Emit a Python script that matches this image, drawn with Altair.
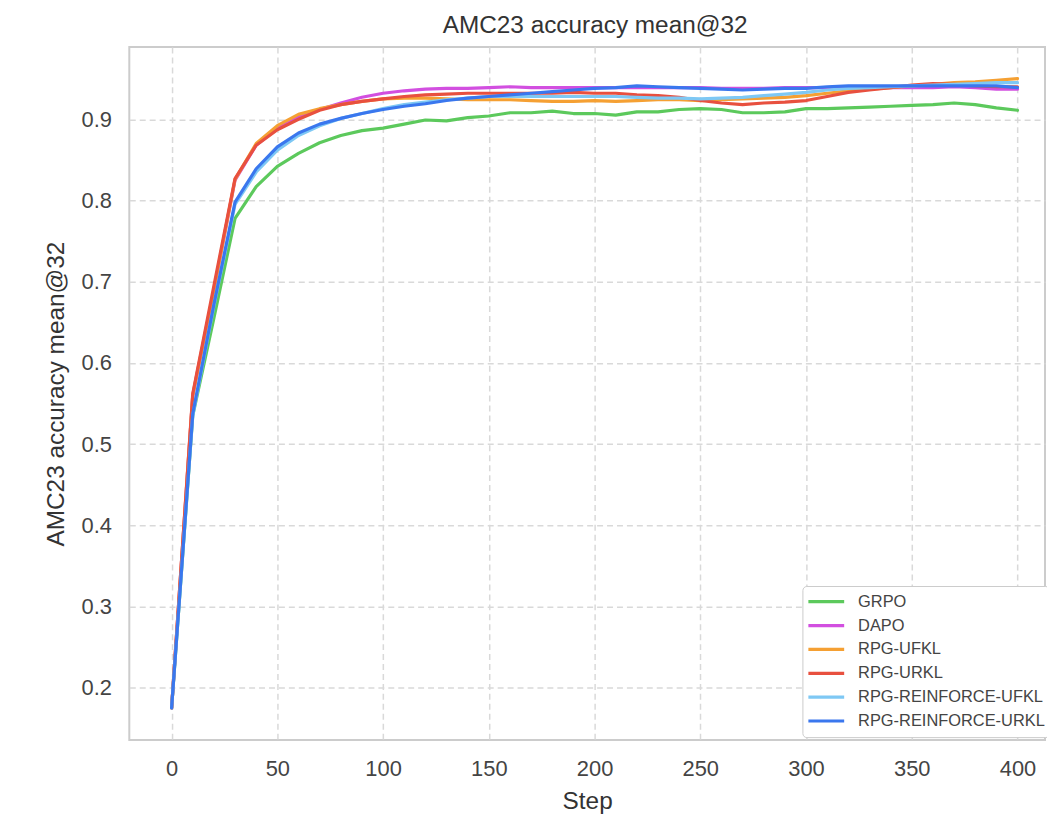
import altair as alt
import pandas as pd

steps = list(range(0, 401, 10))

series_names = ["GRPO", "DAPO", "RPG-UFKL", "RPG-URKL", "RPG-REINFORCE-UFKL", "RPG-REINFORCE-URKL"]
series_colors = ["#5cc95c", "#d24fe0", "#f5a033", "#e8503f", "#7ec8f4", "#3a77ee"]

grpo = [0.175, 0.535, 0.655, 0.778, 0.817, 0.842, 0.858, 0.871, 0.880, 0.886,
        0.889, 0.894, 0.899, 0.898, 0.902, 0.904, 0.908, 0.908, 0.910, 0.907,
        0.907, 0.905, 0.909, 0.909, 0.912, 0.913, 0.912, 0.908, 0.908, 0.909,
        0.913, 0.913, 0.914, 0.915, 0.916, 0.917, 0.918, 0.920, 0.918, 0.914, 0.911]
dapo = [0.175, 0.560, 0.690, 0.825, 0.868, 0.889, 0.903, 0.912, 0.920, 0.927,
        0.932, 0.935, 0.937, 0.938, 0.938, 0.939, 0.940, 0.939, 0.939, 0.939,
        0.939, 0.939, 0.939, 0.939, 0.939, 0.939, 0.938, 0.938, 0.938, 0.939,
        0.939, 0.939, 0.939, 0.939, 0.939, 0.939, 0.939, 0.940, 0.939, 0.937, 0.937]
rpg_ufkl = [0.175, 0.560, 0.690, 0.826, 0.870, 0.892, 0.906, 0.913, 0.918, 0.922,
            0.925, 0.926, 0.926, 0.925, 0.924, 0.924, 0.924, 0.923, 0.922, 0.922,
            0.923, 0.922, 0.923, 0.924, 0.924, 0.923, 0.924, 0.925, 0.926, 0.927,
            0.929, 0.932, 0.935, 0.937, 0.939, 0.941, 0.943, 0.945, 0.946, 0.948, 0.950]
rpg_urkl = [0.175, 0.562, 0.695, 0.827, 0.868, 0.887, 0.900, 0.911, 0.918, 0.922,
            0.925, 0.928, 0.930, 0.931, 0.932, 0.932, 0.932, 0.932, 0.932, 0.933,
            0.932, 0.932, 0.930, 0.929, 0.927, 0.923, 0.920, 0.918, 0.920, 0.921,
            0.923, 0.928, 0.933, 0.936, 0.939, 0.942, 0.944, 0.943, 0.941, 0.940, 0.940]
rpg_reinforce_ufkl = [0.175, 0.535, 0.670, 0.795, 0.835, 0.862, 0.880, 0.892, 0.901, 0.907,
                      0.913, 0.918, 0.921, 0.924, 0.926, 0.928, 0.928, 0.928, 0.928, 0.928,
                      0.928, 0.928, 0.927, 0.926, 0.926, 0.925, 0.926, 0.927, 0.929, 0.931,
                      0.933, 0.936, 0.938, 0.939, 0.940, 0.941, 0.942, 0.943, 0.944, 0.945, 0.945]
rpg_reinforce_urkl = [0.175, 0.537, 0.672, 0.798, 0.839, 0.866, 0.883, 0.894, 0.901, 0.907,
                      0.912, 0.916, 0.919, 0.923, 0.926, 0.928, 0.930, 0.932, 0.934, 0.936,
                      0.938, 0.939, 0.941, 0.940, 0.939, 0.938, 0.937, 0.936, 0.937, 0.938,
                      0.938, 0.940, 0.941, 0.941, 0.941, 0.941, 0.941, 0.941, 0.941, 0.941, 0.939]

all_values = [grpo, dapo, rpg_ufkl, rpg_urkl, rpg_reinforce_ufkl, rpg_reinforce_urkl]

x_ticks = [0, 50, 100, 150, 200, 250, 300, 350, 400]
y_ticks = [0.2, 0.3, 0.4, 0.5, 0.6, 0.7, 0.8, 0.9]

FONT = "Liberation Sans"

color_scale = alt.Scale(domain=series_names, range=series_colors)

layers = []
for name, vals in zip(series_names, all_values):
    df = pd.DataFrame({"Step": steps, "Accuracy": vals, "Method": name})
    layers.append(
        alt.Chart(df).mark_line(strokeWidth=3.2, strokeCap="round", strokeJoin="round").encode(
            x=alt.X("Step:Q",
                    scale=alt.Scale(domain=[-20, 413], nice=False, zero=False),
                    axis=alt.Axis(values=x_ticks, title="Step", format="d")),
            y=alt.Y("Accuracy:Q",
                    scale=alt.Scale(domain=[0.1355, 0.9888], nice=False, zero=False),
                    axis=alt.Axis(values=y_ticks, title="AMC23 accuracy mean@32", format=".1f")),
            color=alt.Color("Method:N", scale=color_scale,
                            legend=alt.Legend(title=None, orient="none", legendX=677, legendY=542,
                                              symbolType="stroke", symbolSize=1296,
                                              symbolStrokeWidth=3.2, labelFontSize=16.5,
                                              labelFont=FONT, labelColor="#444444",
                                              fillColor="#ffffff", strokeColor="#cccccc",
                                              cornerRadius=4, padding=4, rowPadding=0,
                                              clipHeight=23.6,
                                              labelOffset=12, labelLimit=300)),
        )
    )

chart = alt.layer(*layers).properties(
    width=921,
    height=697,
    title=alt.TitleParams("AMC23 accuracy mean@32", fontSize=24.5, font=FONT,
                          fontWeight="normal", color="#333333", offset=9, dx=8),
    autosize=alt.AutoSizeParams(type="none"),
    padding={"left": 122, "top": 37, "right": 2, "bottom": 72},
).configure_view(
    stroke="#cccccc", strokeWidth=2,
).configure_axis(
    grid=True, gridColor="#d9d9d9", gridDash=[6, 4], gridWidth=1.5,
    domain=False, ticks=False,
    labelFont=FONT, labelFontSize=22, labelColor="#444444",
    titleFont=FONT, titleFontSize=24.5, titleColor="#333333", titleFontWeight="normal",
).configure_axisX(
    labelPadding=19, titlePadding=10,
).configure_axisY(
    labelPadding=18, titlePadding=13,
)

chart.save("out.html", embed_options={"renderer": "svg", "actions": False})
